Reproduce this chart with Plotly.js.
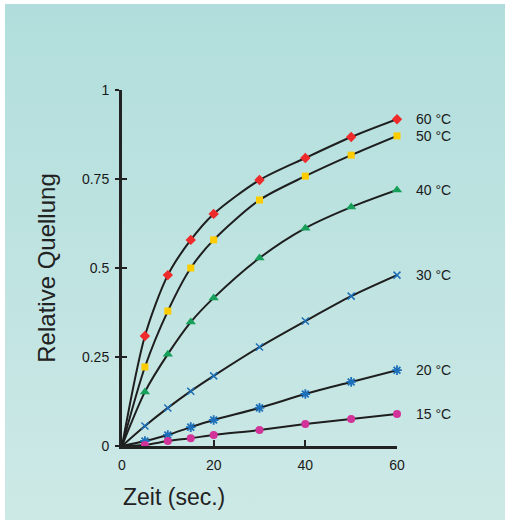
<!DOCTYPE html>
<html><head><meta charset="utf-8">
<script src="https://cdn.plot.ly/plotly-3.0.1.min.js"></script>
<style>
html,body{margin:0;padding:0;background:#fff;}
#bg{position:absolute;left:5px;top:4px;width:500px;height:516px;background:linear-gradient(to bottom,#b1dedc,#cde9e6);}
#chart{position:absolute;left:0;top:0;width:510px;height:522px;}
</style></head>
<body><div id="bg"></div><div id="chart"></div>
<script>
const times = [0, 5, 10, 15, 20, 30, 40, 50, 60];
const seriesNames = ['60 °C', '50 °C', '40 °C', '30 °C', '20 °C', '15 °C'];
const s60 = [0, 0.309, 0.480, 0.579, 0.652, 0.747, 0.809, 0.868, 0.918];
const s50 = [0, 0.222, 0.379, 0.500, 0.579, 0.691, 0.758, 0.817, 0.871];
const s40 = [0, 0.152, 0.258, 0.348, 0.416, 0.528, 0.612, 0.671, 0.719];
const s30 = [0, 0.056, 0.107, 0.154, 0.197, 0.278, 0.351, 0.421, 0.480];
const s20 = [0, 0.014, 0.031, 0.053, 0.073, 0.107, 0.146, 0.180, 0.213];
const s15 = [0, 0.003, 0.014, 0.022, 0.031, 0.045, 0.062, 0.076, 0.090];
const yTickVals = [0, 0.25, 0.5, 0.75, 1];
const yTickText = ['0', '0.25', '0.5', '0.75', '1'];
const xTickVals = [0, 20, 40, 60];

const allSeries = [s60, s50, s40, s30, s20, s15];
const styles = [
  {symbol:'diamond', color:'#ee2a2a', size:8},
  {symbol:'square', color:'#ffcc00', size:7},
  {symbol:'triangle-up', color:'#17a05a', size:9},
  {symbol:'x-thin-open', color:'#1c6fb8', size:7, lw:1.5},
  {symbol:'asterisk-open', color:'#1c6fb8', size:8, lw:1.8},
  {symbol:'circle', color:'#d23399', size:8}
];
const narrow = '"Liberation Sans", Arial, sans-serif';
const traces = [];
const annotations = [];
allSeries.forEach((s, i) => {
  traces.push({x: times, y: s, mode:'lines', type:'scatter', line:{color:'#1e1e1e', width:2, shape:'spline', smoothing:0.8}, hoverinfo:'skip', cliponaxis:false});
});
allSeries.forEach((s, i) => {
  const st = styles[i];
  traces.push({x: times.slice(1), y: s.slice(1), mode:'markers', type:'scatter', name: seriesNames[i], cliponaxis:false,
    marker:{symbol:st.symbol, color:st.color, size:st.size, line:{color:st.color, width:st.lw||0}}});
  annotations.push({x: times[times.length-1], y: s[s.length-1], xref:'x', yref:'y', text: seriesNames[i], showarrow:false,
    xanchor:'left', xshift:17, font:{family:narrow, size:14, color:'#1a1a1a'}});
});
annotations.push({x:0, xref:'paper', y:0, yref:'paper', yshift:-51, xshift:-1, xanchor:'left', yanchor:'middle', text:'Zeit (sec.)', showarrow:false,
  font:{family:'"Liberation Sans", Arial, sans-serif', size:23, color:'#222'}});

const layout = {
  width:510, height:522,
  margin:{l:122, r:113, t:90, b:76},
  paper_bgcolor:'rgba(0,0,0,0)', plot_bgcolor:'rgba(0,0,0,0)',
  showlegend:false,
  xaxis:{range:[0,60], tickvals:xTickVals, ticks:'inside', ticklen:6, tickwidth:2, tickcolor:'#222',
    showline:true, linecolor:'#222', linewidth:3, showgrid:false, zeroline:false, ticklabelstandoff:4,
    tickfont:{family:narrow, size:14, color:'#1a1a1a'}},
  yaxis:{range:[0,1], tickvals:yTickVals, ticktext:yTickText, ticks:'outside', ticklen:4, tickwidth:2, tickcolor:'#222',
    showline:true, linecolor:'#222', linewidth:3, showgrid:false, zeroline:false, ticklabelstandoff:3,
    tickfont:{family:narrow, size:14, color:'#1a1a1a'},
    title:{text:'Relative Quellung', standoff:20, font:{family:'"Liberation Sans", Arial, sans-serif', size:24, color:'#222'}}},
  yaxis2:{overlaying:'y', matches:'y', range:[0,1], tickvals:yTickVals, showticklabels:false, ticks:'inside', ticklen:5, tickwidth:2, tickcolor:'#222',
    showline:false, showgrid:false, zeroline:false},
  annotations: annotations
};
traces.push({x:[0], y:[0], yaxis:'y2', mode:'markers', marker:{opacity:0}, hoverinfo:'skip'});
Plotly.newPlot('chart', traces, layout, {displayModeBar:false});
</script></body></html>
